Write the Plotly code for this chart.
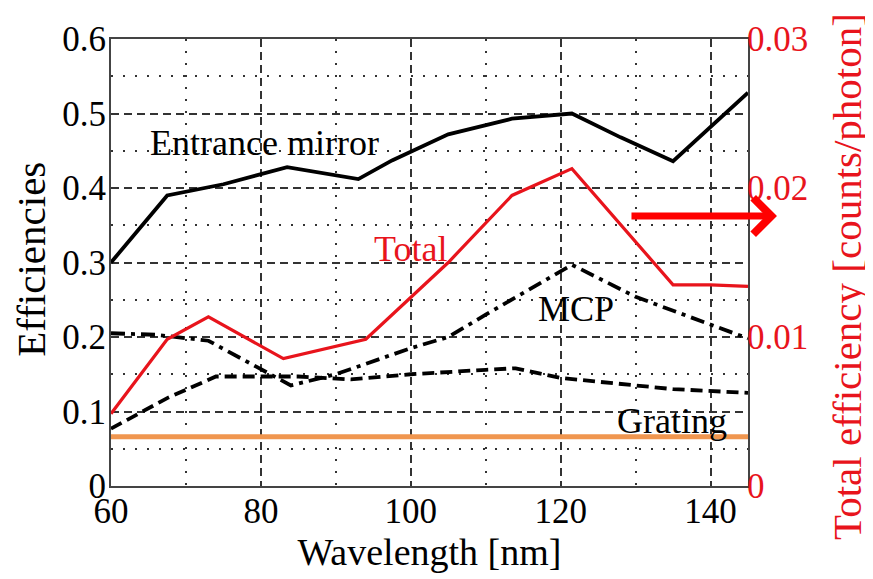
import plotly.graph_objects as go

# Data
mirror_x = [60, 67.5, 75, 83.5, 93, 97.5, 105, 113.5, 121.5, 128, 135, 145]
mirror_y = [0.30, 0.39, 0.405, 0.428, 0.412, 0.437, 0.472, 0.493, 0.50, 0.468, 0.436, 0.528]

mcp_x = [60, 66, 73, 84, 90, 100, 105, 110, 121.5, 130, 145]
mcp_y = [0.205, 0.203, 0.195, 0.135, 0.15, 0.185, 0.20, 0.23, 0.297, 0.254, 0.198]

grating_x = [60, 67.5, 74, 85, 92, 100, 110, 114, 120, 128, 135, 145]
grating_y = [0.077, 0.118, 0.147, 0.147, 0.143, 0.15, 0.156, 0.158, 0.145, 0.137, 0.130, 0.125]

total_x = [60, 67.5, 73, 83, 94, 105, 113.5, 121.5, 135, 140, 145]
total_y = [0.00485, 0.00985, 0.01135, 0.00855, 0.00985, 0.0150, 0.0195, 0.0213, 0.0135, 0.0135, 0.0134]

ref_level = 0.066
x_range = [60, 145]
y_range = [0, 0.6]
y2_range = [0, 0.03]

FONT = "Liberation Serif"
RED = "#e8141c"
ORANGE = "#f0964f"
GRID = "#333333"

fig = go.Figure()
fig.add_trace(go.Scatter(x=mirror_x, y=mirror_y, mode="lines",
                         line=dict(color="black", width=3.8), showlegend=False))
fig.add_trace(go.Scatter(x=mcp_x, y=mcp_y, mode="lines",
                         line=dict(color="black", width=3.8, dash="14px,6px,4px,6px"), showlegend=False))
fig.add_trace(go.Scatter(x=grating_x, y=grating_y, mode="lines",
                         line=dict(color="black", width=3.8, dash="12px,6px"), showlegend=False))
fig.add_trace(go.Scatter(x=x_range, y=[ref_level, ref_level], mode="lines",
                         line=dict(color=ORANGE, width=5), showlegend=False))
fig.add_trace(go.Scatter(x=total_x, y=total_y, mode="lines", yaxis="y2",
                         line=dict(color=RED, width=3.2), showlegend=False))

fig.update_layout(
    width=873, height=579,
    margin=dict(l=103, r=133, t=26, b=101),
    paper_bgcolor="white", plot_bgcolor="white",
    font=dict(family=FONT, size=34, color="black"),
    xaxis=dict(range=x_range, dtick=20, tick0=60,
               showline=True, linecolor="#444", linewidth=2, mirror=True,
               showgrid=True, gridcolor=GRID, gridwidth=1.5, griddash="8px,5px",
               minor=dict(dtick=10, showgrid=True, gridcolor=GRID, gridwidth=1.5, griddash="2px,10px"),
               ticks="", zeroline=False, ticklabelstandoff=-7,
               title=dict(text="Wavelength [nm]", font=dict(size=38), standoff=5),
               tickfont=dict(size=35)),
    yaxis=dict(range=y_range, dtick=0.1, tick0=0,
               showline=True, linecolor="#444", linewidth=2, mirror=True,
               showgrid=True, gridcolor=GRID, gridwidth=1.5, griddash="8px,5px",
               minor=dict(dtick=0.05, showgrid=True, gridcolor=GRID, gridwidth=1.5, griddash="2px,10px"),
               ticks="", zeroline=False, ticklabelstandoff=-4,
               tickfont=dict(size=35)),
    yaxis2=dict(range=y2_range, dtick=0.01, overlaying="y", side="right",
                showgrid=False, zeroline=False, ticks="", ticklabelstandoff=-2,
                tickfont=dict(size=35, color=RED)),
)

# Axis titles placed as rotated annotations
fig.add_annotation(x=-0.125, y=0.507, xref="paper", yref="paper", text="Efficiencies",
                   textangle=-90, showarrow=False, xanchor="center", yanchor="middle",
                   font=dict(size=41, color="black"))
fig.add_annotation(x=1.195, y=0.468, xref="paper", yref="paper",
                   text="Total efficiency [counts/photon]", xanchor="right",
                   textangle=-90, showarrow=False, font=dict(size=41, color=RED))

fig.add_annotation(x=80.5, y=0.46, text="Entrance mirror", showarrow=False,
                   font=dict(size=36, color="black"))
fig.add_annotation(x=100, y=0.318, text="Total", showarrow=False,
                   font=dict(size=36, color=RED))
fig.add_annotation(x=122, y=0.238, text="MCP", showarrow=False,
                   font=dict(size=36, color="black"))
fig.add_annotation(x=134.8, y=0.087, text="Grating", showarrow=False,
                   font=dict(size=36, color="black"))

fig.add_annotation(x=1.0455, y=0.604, xref="paper", yref="paper",
                   ax=-147, ay=0, showarrow=True, arrowhead=4,
                   arrowwidth=7, arrowsize=1.0, arrowcolor="#ff0000", text="")

fig.write_html("out.html")
